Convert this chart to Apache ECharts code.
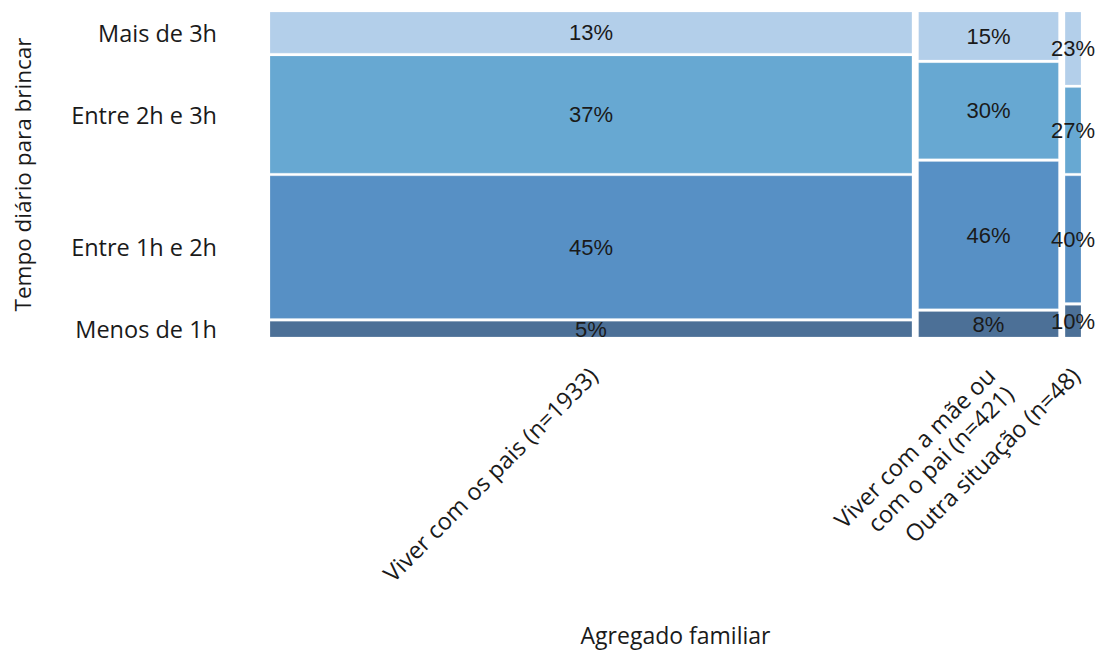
<!DOCTYPE html>
<html>
<head>
<meta charset="utf-8">
<script src="https://cdn.jsdelivr.net/npm/echarts@6/dist/echarts.min.js"></script>
<style>
  html, body { margin: 0; padding: 0; background: #ffffff; }
  #chart { width: 1098px; height: 650px; }
</style>
</head>
<body>
<div id="chart"></div>
<script>
// Household groups (x) and their sample sizes, which set the column widths
const groups = ['Viver com os pais (n=1933)', 'Viver com a mãe ou\ncom o pai (n=421)', 'Outra situação (n=48)'];
const groupN = [1933, 421, 48];

// Daily play time levels, bottom to top
const levels = ['Menos de 1h', 'Entre 1h e 2h', 'Entre 2h e 3h', 'Mais de 3h'];
const levelColors = ['#4c7097', '#5790c5', '#67a8d2', '#b3cfea'];

// Percentage of each level within each group (same order as levels)
const pctViverPais = [5, 45, 37, 13];
const pctMaeOuPai = [8, 46, 30, 15];
const pctOutra = [10, 40, 27, 23];
const groupPct = [pctViverPais, pctMaeOuPai, pctOutra];

// Spacing between tiles, in axis units
const xGap = 20;      // between columns (units of n)
const yGap = 0.0085;  // between stacked tiles (fraction of column height)

const xMax = groupN.reduce((a, b) => a + b, 0) + xGap * (groupN.length - 1);
const yMax = 1 + yGap * (levels.length - 1);

// Build tile rectangles: [x0, x1, y0, y1, pct, levelIndex]
const tiles = [];
const colCenters = [];
let xStart = 0;
groupN.forEach((n, g) => {
  const pcts = groupPct[g];
  const total = pcts.reduce((a, b) => a + b, 0);
  let yStart = 0;
  pcts.forEach((p, l) => {
    const h = p / total;
    tiles.push([xStart, xStart + n, yStart, yStart + h, p, l]);
    yStart += h + yGap;
  });
  colCenters.push(xStart + n / 2);
  xStart += n + xGap;
});

// Y tick positions at the centres of the first column's tiles
const levelCenters = tiles.filter((t, i) => i < levels.length).map(t => (t[2] + t[3]) / 2);

const labelFont = '"Open Sans", sans-serif';
const textColor = '#1a1a1a';

const chart = echarts.init(document.getElementById('chart'), null, { renderer: 'svg' });

chart.setOption({
  animation: false,
  backgroundColor: '#ffffff',
  grid: { left: 270, right: 17, top: 12, bottom: 313, outerBoundsMode: 'none', containLabel: false },
  xAxis: {
    type: 'value',
    min: 0,
    max: xMax,
    name: 'Agregado familiar',
    nameLocation: 'middle',
    nameGap: 286,
    nameTextStyle: { fontFamily: labelFont, fontSize: 23, color: textColor },
    axisLine: { show: false },
    axisTick: { show: false },
    splitLine: { show: false },
    axisLabel: {
      customValues: colCenters,
      rotate: 45,
      margin: 18,
      align: 'right',
      verticalAlign: 'top',
      padding: [0, 10, 0, 0],
      fontFamily: labelFont,
      fontSize: 23.5,
      lineHeight: 26,
      color: textColor,
      formatter: function (v) {
        const i = colCenters.findIndex(c => Math.abs(c - v) < 1e-6);
        return i >= 0 ? groups[i] : '';
      }
    }
  },
  yAxis: {
    type: 'value',
    min: 0,
    max: yMax,
    name: 'Tempo diário para brincar',
    nameLocation: 'middle',
    nameGap: 236,
    nameTextStyle: { fontFamily: labelFont, fontSize: 22.5, color: textColor },
    axisLine: { show: false },
    axisTick: { show: false },
    splitLine: { show: false },
    axisLabel: {
      customValues: levelCenters,
      margin: 53,
      fontFamily: labelFont,
      fontSize: 23.5,
      color: textColor,
      formatter: function (v) {
        const i = levelCenters.findIndex(c => Math.abs(c - v) < 1e-6);
        return i >= 0 ? levels[i] : '';
      }
    }
  },
  series: [{
    type: 'custom',
    data: tiles,
    encode: { x: [0, 1], y: [2, 3] },
    renderItem: function (params, api) {
      const p0 = api.coord([api.value(0), api.value(3)]);
      const p1 = api.coord([api.value(1), api.value(2)]);
      const lvl = api.value(5);
      const x = p0[0], y = p0[1];
      const w = p1[0] - p0[0], h = p1[1] - p0[1];
      return {
        type: 'group',
        children: [{
          type: 'rect',
          shape: { x: x, y: y, width: w, height: h },
          style: { fill: levelColors[lvl], stroke: 'rgba(255,255,255,0.35)', lineWidth: 0.6 }
        }, {
          type: 'text',
          style: {
            x: x + w / 2,
            y: y + h / 2,
            text: api.value(4) + '%',
            fill: textColor,
            font: '22px "Liberation Sans", Arial, sans-serif',
            align: 'center',
            verticalAlign: 'middle'
          }
        }]
      };
    }
  }]
});
</script>
</body>
</html>
